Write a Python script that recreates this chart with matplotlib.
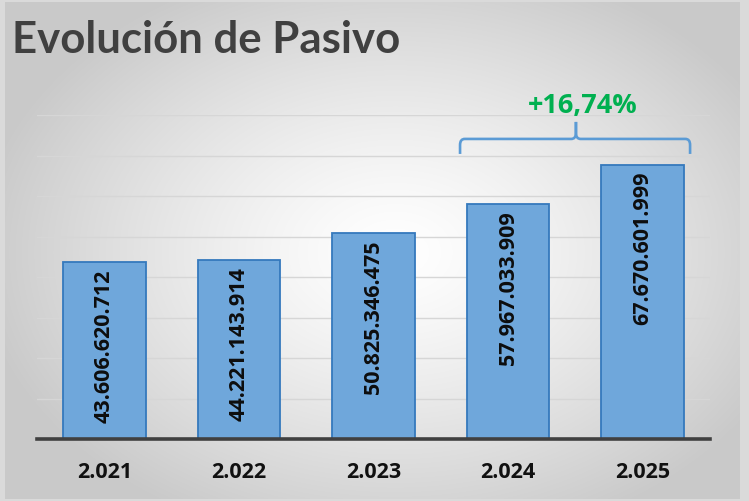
import numpy as np
import matplotlib
matplotlib.use("Agg")
import matplotlib.pyplot as plt
from matplotlib.path import Path
from matplotlib.patches import PathPatch

# ---- data ----
years = ["2.021", "2.022", "2.023", "2.024", "2.025"]
pasivo = [43606620712, 44221143914, 50825346475, 57967033909, 67670601999]
value_labels = ["43.606.620.712", "44.221.143.914", "50.825.346.475",
                "57.967.033.909", "67.670.601.999"]
title = "Evolución de Pasivo"

W, H = 749, 502
fig = plt.figure(figsize=(W / 100, H / 100), dpi=100)
fig.patch.set_facecolor("#dadada")

# ---- background radial gradient ----
bg = fig.add_axes([5 / W, 2 / H, 735 / W, 497 / H])
bg.set_axis_off()
yy, xx = np.mgrid[0:497, 0:735]
cx, cy = 390, 250
d = np.sqrt(((xx - cx) / 420.0) ** 2 + ((yy - cy) / 300.0) ** 2)
shade = 1.0 - 0.21 * np.clip(d, 0, 1) ** 1.3
img = np.dstack([shade, shade, shade])
bg.imshow(img, aspect="auto", extent=[0, 1, 0, 1], origin="upper")
bg.set_xlim(0, 1)
bg.set_ylim(0, 1)

# ---- main axes ----
ax = fig.add_axes([37 / W, (H - 440) / H, (710 - 37) / W, (440 - 116) / H])
ax.patch.set_alpha(0)
x = np.arange(len(years))
ax.set_xlim(-0.5, len(years) - 0.5)
ax.set_ylim(0, 80e9)
ax.set_yticks(np.arange(10e9, 80.1e9, 10e9))
ax.yaxis.grid(True, color="#d6d6d6", lw=1.0)
ax.set_axisbelow(True)
ax.tick_params(axis="y", left=False, labelleft=False)
for s in ["top", "right", "left"]:
    ax.spines[s].set_visible(False)
ax.spines["bottom"].set_color("#404040")
ax.spines["bottom"].set_linewidth(2.6)
ax.spines["bottom"].set_zorder(5)

ax.bar(x, pasivo, width=0.615, color="#6fa7db", edgecolor="#3579bd",
       linewidth=1.3, zorder=3)

ax.set_xticks(x)
ax.set_xticklabels(years, fontsize=15.5, fontweight="bold",
                   fontfamily="Open Sans", color="#111111")
ax.tick_params(axis="x", length=0, pad=16)

px = 80e9 / (440 - 116)  # data units per pixel
for xi, v, lab in zip(x, pasivo, value_labels):
    ax.text(xi, v - 6 * px, lab, rotation=90, ha="center", va="top",
            fontsize=15.5, fontweight="bold", fontfamily="Open Sans",
            color="#0d0d0d", zorder=4)

# ---- growth bracket ----
growth = pasivo[4] / pasivo[3] - 1
gtxt = "+" + f"{growth * 100:.2f}".replace(".", ",") + "%"
xl, xr = x[3] - 0.357, x[4] + 0.352
xm = (x[3] + x[4]) / 2 + 0.004
y_end = max(pasivo) + 11 * px
y_bar = max(pasivo) + 26 * px
y_tip = max(pasivo) + 43 * px
r = 0.035
ry = 6 * px
verts = [
    (xl, y_end), (xl, y_bar - ry), (xl, y_bar), (xl + r, y_bar),
    (xm - r, y_bar), (xm, y_bar), (xm, y_bar + ry), (xm, y_tip),
]
codes = [Path.MOVETO, Path.LINETO, Path.CURVE3, Path.CURVE3,
         Path.LINETO, Path.CURVE3, Path.CURVE3, Path.LINETO]
verts2 = [
    (xr, y_end), (xr, y_bar - ry), (xr, y_bar), (xr - r, y_bar),
    (xm + r, y_bar), (xm, y_bar), (xm, y_bar + ry), (xm, y_tip),
]
for vv in (verts, verts2):
    ax.add_patch(PathPatch(Path(vv, codes), fill=False, edgecolor="#5b9bd5",
                           lw=1.9, clip_on=False, zorder=6, capstyle="butt"))
ax.text(xm + 0.05, max(pasivo) + 60 * px, gtxt, ha="center", va="center",
        fontsize=19.5, fontweight="bold", fontfamily="Open Sans",
        color="#00b050", clip_on=False)

# ---- title ----
fig.text(12 / W, 1 - 53 / H, title, ha="left", va="baseline",
         fontsize=31.5, fontweight="bold", fontfamily="Lato", color="#404040")

fig.savefig("out.png", dpi=100, facecolor=fig.get_facecolor())
